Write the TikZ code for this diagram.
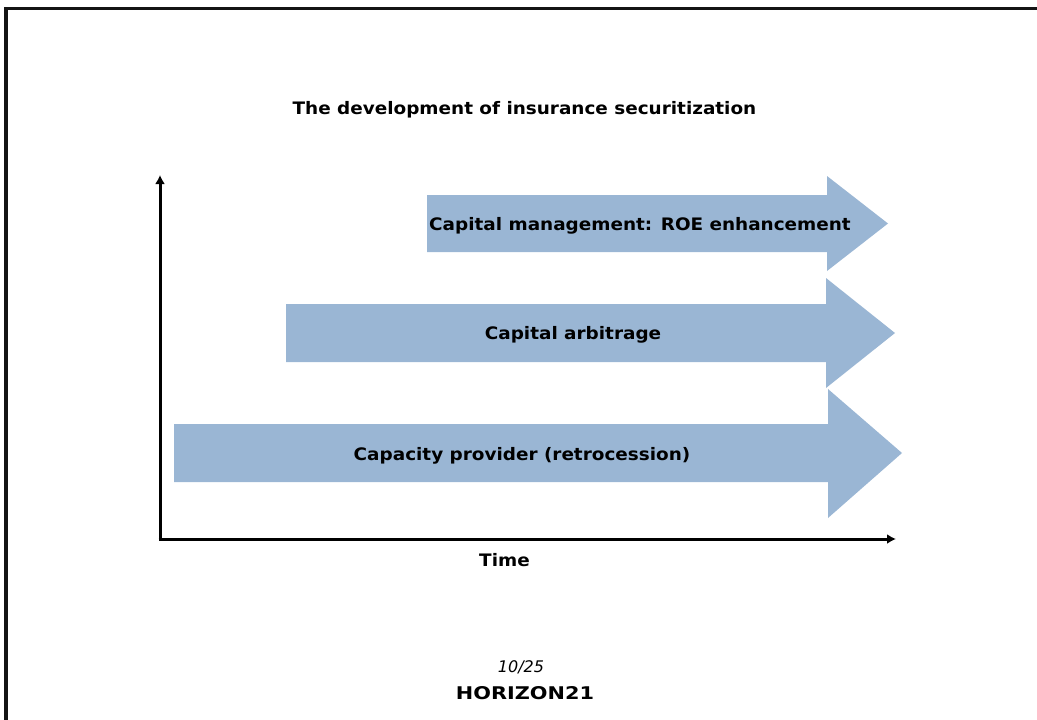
\documentclass[tikz,border=0pt]{standalone}
\usepackage{fontspec}
\setmainfont{DejaVu Sans}
\usetikzlibrary{arrows.meta}
\tikzset{
  band/.style={fill=bandblue,draw=none},
  lab/.style={font=\fontsize{17.2}{20}\selectfont\bfseries,inner sep=0pt,text=black,xscale=1.07},
  axis/.style={line width=3pt,-{Latex[length=9pt,width=10pt]}},
  frameline/.style={line width=3.2pt,black!92}
}
\definecolor{bandblue}{HTML}{9AB6D4}
\begin{document}
\begin{tikzpicture}[x=1pt,y=-1pt]
\useasboundingbox (0,0) rectangle (1037,720);
\draw[frameline] (6,720) -- (6,8.5) -- (1037,8.5);
\node[lab] (title) at (524.5,109.5) {The development of insurance securitization};
\fill[band] (427,195) -- (827,195) -- (827,176) -- (888,223.5) -- (827,271) -- (827,252) -- (427,252) -- cycle;
\fill[band] (286,304) -- (826,304) -- (826,278) -- (895,333) -- (826,388) -- (826,362) -- (286,362) -- cycle;
\fill[band] (174,424) -- (828,424) -- (828,389) -- (902,453) -- (828,518) -- (828,482) -- (174,482) -- cycle;
\node[lab] (a1) at (640,225.5) {Capital management: ROE enhancement};
\node[lab] (a2) at (573,334.5) {Capital arbitrage};
\node[lab] (a3) at (522,455.5) {Capacity provider (retrocession)};
\coordinate (origin) at (160,539);
\coordinate (ytop) at (160,175);
\coordinate (xend) at (896,539);
\draw[axis] (origin) -- (ytop);
\draw[axis] ([xshift=-1.5pt]origin) -- (xend);
\node[lab] (time) at (504.5,560.5) {Time};
\node[inner sep=0pt,font=\fontsize{16}{18}\selectfont\itshape] (page) at (521,667.5) {10/25};
\node[inner sep=0pt,font=\fontsize{17.5}{20}\selectfont\bfseries,xscale=1.19] (logo) at (525,693.5) {HORIZON21};
\end{tikzpicture}
\end{document}
